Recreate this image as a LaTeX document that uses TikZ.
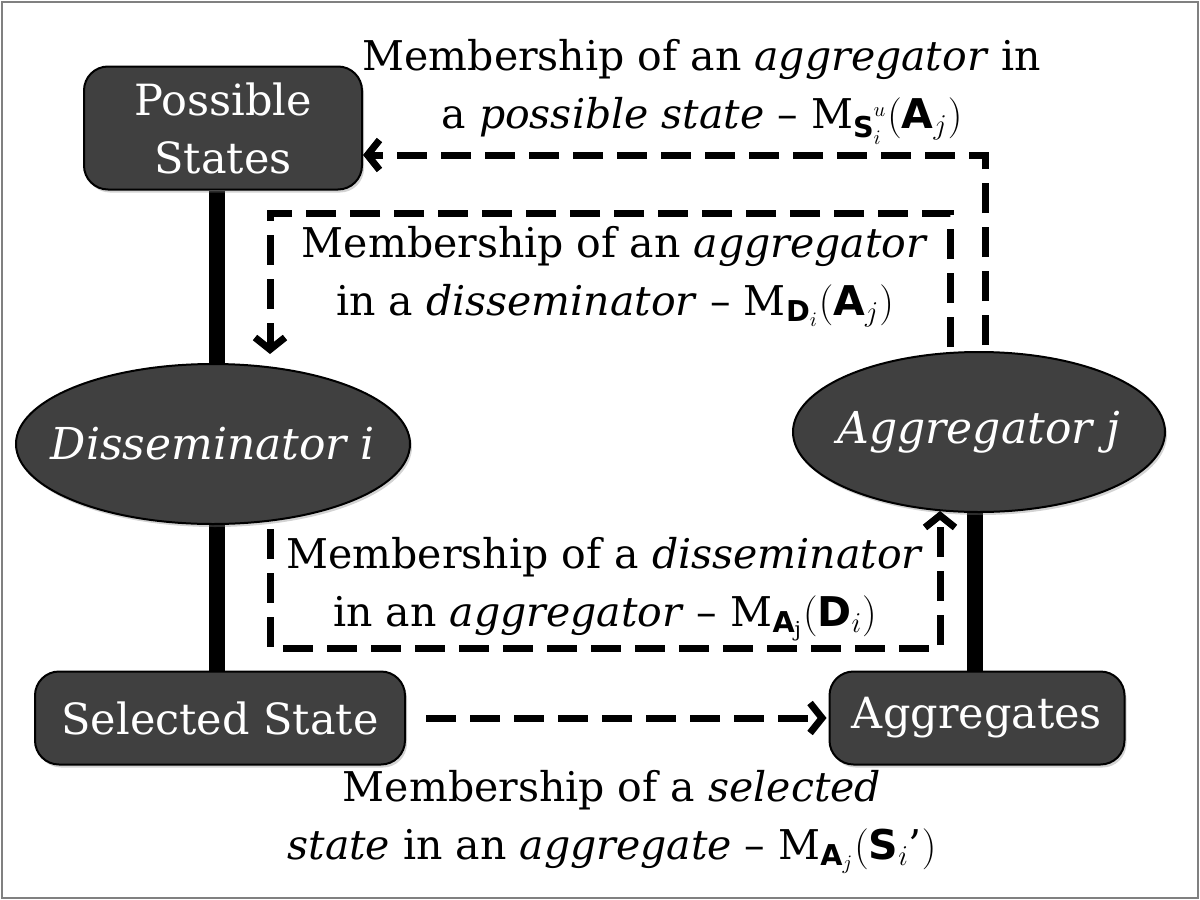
\RequirePackage{fix-cm}
\documentclass[tikz,border=0pt]{standalone}
\usepackage{amsmath, amssymb}
\usepackage{fontspec}
\setmainfont{DejaVu Serif}
\setsansfont{DejaVu Sans}
\usepackage{tikz}
\usetikzlibrary{arrows.meta,backgrounds,shadows,shapes.geometric}

\definecolor{boxgray}{HTML}{404040}
\newcommand{\bsf}[1]{\textsf{\textbf{#1}}}

\begin{document}
\begin{tikzpicture}[x=0.5pt,y=-0.5pt,
    every node/.style={inner sep=0pt},
    shade/.style={drop shadow={shadow xshift=1pt,shadow yshift=-1.5pt,opacity=0.35}},
    box/.style={draw=black,line width=1pt,fill=boxgray,rounded corners=12pt,text=white,
        font=\fontsize{21.5}{29}\selectfont,align=center,shade},
    oval/.style={ellipse,draw=black,line width=1pt,fill=boxgray,text=white,inner xsep=-15pt,
        font=\fontsize{22}{29}\selectfont\itshape,shade},
    lbl/.style={align=center,font=\fontsize{20.5}{29}\selectfont},
    link/.style={line width=8pt},
    dasharrow/.style={line width=3.5pt,dash pattern=on 15pt off 7pt,
        -{Straight Barb[length=6pt,width=15pt]}}]
    \useasboundingbox (0,0) rectangle (1200,900);
    \draw[gray,line width=1pt] (2,2) rectangle (1198,898);
    % states, disseminator, aggregator
    \node[box,minimum width=139pt,minimum height=61.5pt](ps) at (223,128){Possible\\States};
    \node[box,minimum width=185pt,minimum height=46.5pt](sel) at (220,718){Selected State};
    \node[box,minimum width=147.5pt,minimum height=46.5pt](aggs) at (977,718){Aggregates};
    \node[oval,minimum width=197pt,minimum height=80pt](dis) at (213,444){Disseminator i};
    \node[oval,minimum width=186pt,minimum height=80pt](agg) at (979,432){Aggregator j};
    \begin{scope}[on background layer]
    \draw[link] ([xshift=-3pt]ps.south) -- ([xshift=-3pt]ps.south |- dis.north);
    \draw[link] ([xshift=-3pt]ps.south |- dis.south) -- ([xshift=-3pt]ps.south |- sel.north);
    \draw[link] ([xshift=-1pt]aggs.north) -- ([xshift=-1pt]aggs.north |- agg.south);
    \end{scope}
    % memberships
    \coordinate (turnA) at (270,213);
    \coordinate (turnB) at (940,648);
    \draw[dasharrow] ([xshift=3pt,yshift=3pt]agg.north) |- ([yshift=-13.5pt]ps.east);
    \draw[dasharrow] ([xshift=-14.5pt,yshift=2pt]agg.north) |- (turnA) -- ([xshift=28.5pt,yshift=4.5pt]dis.north);
    \draw[dasharrow] ([xshift=28.5pt,yshift=-2pt]dis.south) |- (turnB) -- ([xshift=-19.5pt,yshift=1pt]agg.south);
    \draw[dasharrow] ([xshift=10pt]sel.east) -- ([xshift=-1pt]aggs.west);
    \node[lbl](l1) at (702,92){Membership of an \textit{aggregator} in\\
        a \textit{possible state} -- $\mathrm{M}_{\bsf{S}_i^u}(\bsf{A}_j)$};
    \node[lbl](l2) at (615,277){Membership of an \textit{aggregator}\\
        in a \textit{disseminator} -- $\mathrm{M}_{\bsf{D}_i}(\bsf{A}_j)$};
    \node[lbl](l3) at (605,589){Membership of a \textit{disseminator}\\
        in an \textit{aggregator} -- $\mathrm{M}_{\bsf{A}_{\mathrm{j}}}(\bsf{D}_i)$};
    \node[lbl](l4) at (612,822){Membership of a \textit{selected}\\
        \textit{state} in an \textit{aggregate} -- $\mathrm{M}_{\bsf{A}_j}(\bsf{S}_i\text{'})$};
\end{tikzpicture}
\end{document}
